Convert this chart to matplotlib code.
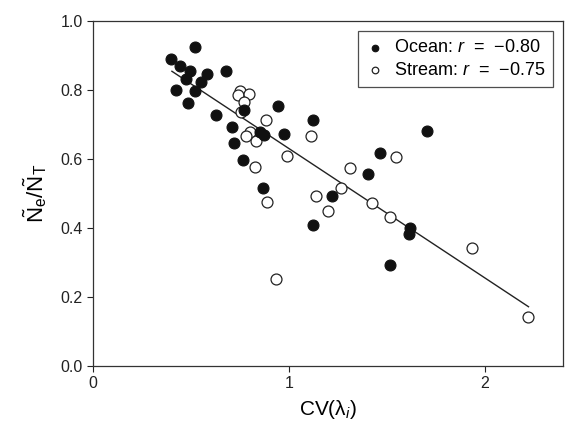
import matplotlib
matplotlib.use("Agg")
import matplotlib.pyplot as plt

plt.rcParams["font.family"] = ["Liberation Sans", "DejaVu Sans"]
plt.rcParams["mathtext.fontset"] = "custom"
plt.rcParams["mathtext.rm"] = "Liberation Sans"
plt.rcParams["mathtext.it"] = "Liberation Sans:italic"

# Ocean populations (filled)
ocean_cv = [0.398, 0.520, 0.444, 0.495, 0.582, 0.679, 0.474, 0.551, 0.423, 0.520,
            0.485, 0.628, 0.709, 0.719, 0.765, 0.867, 0.944, 1.122, 0.770, 0.852,
            0.872, 0.974, 1.704, 1.464, 1.403, 1.219, 1.122, 1.617, 1.612, 1.515]
ocean_ne = [0.890, 0.924, 0.869, 0.855, 0.846, 0.855, 0.834, 0.823, 0.802, 0.797,
            0.762, 0.727, 0.692, 0.648, 0.599, 0.515, 0.753, 0.715, 0.744, 0.680,
            0.669, 0.674, 0.683, 0.619, 0.558, 0.494, 0.410, 0.401, 0.384, 0.294]

# Stream populations (open)
stream_cv = [0.750, 0.740, 0.796, 0.770, 0.755, 0.883, 0.801, 0.781, 0.832, 1.112,
             0.990, 0.827, 0.888, 0.934, 1.138, 1.199, 1.265, 1.311, 1.546, 1.423,
             1.515, 1.934, 2.219]
stream_ne = [0.799, 0.785, 0.788, 0.765, 0.738, 0.715, 0.680, 0.666, 0.654, 0.666,
             0.608, 0.578, 0.477, 0.253, 0.494, 0.451, 0.515, 0.573, 0.605, 0.474,
             0.433, 0.343, 0.142]

# regression line end points
fit_x = [0.403, 2.224]
fit_y = [0.855, 0.172]

fig = plt.figure(figsize=(5.73, 4.26), dpi=100)
ax = fig.add_axes([0.1623, 0.1408, 0.8202, 0.8092])

ax.plot(fit_x, fit_y, color="#222222", lw=1.0, zorder=1)
ax.scatter(ocean_cv, ocean_ne, s=62, color="#111111", edgecolor="#111111",
           linewidth=0.8, zorder=3, label="Ocean: $r$  =  \u22120.80")
ax.scatter(stream_cv, stream_ne, s=62, facecolor="white", edgecolor="#222222",
           linewidth=0.9, zorder=2, label="Stream: $r$  =  \u22120.75")

ax.set_xlim(0, 2.4)
ax.set_ylim(0, 1.0)
ax.set_xticks([0, 1, 2])
ax.set_yticks([0.0, 0.2, 0.4, 0.6, 0.8, 1.0])
ax.set_yticklabels(["0.0", "0.2", "0.4", "0.6", "0.8", "1.0"])
ax.tick_params(direction="out", length=4, width=0.8, labelsize=11.5, colors="#222222")
for s in ax.spines.values():
    s.set_linewidth(0.9)
    s.set_color("#333333")

ax.set_xlabel("CV(\u03bb$_i$)", fontsize=15, labelpad=5)
ax.set_ylabel(r"$\mathrm{\tilde{N}_e/\tilde{N}_T}$", fontsize=16, labelpad=8)

leg = ax.legend(loc="upper right", fontsize=13, frameon=True, fancybox=False,
                edgecolor="#222222", handletextpad=0.6, borderpad=0.45,
                labelspacing=0.3, handlelength=0.9, markerscale=0.6,
                borderaxespad=0, bbox_to_anchor=(0.979, 0.971))
leg.get_frame().set_linewidth(0.9)

fig.savefig("out.png", dpi=100)
